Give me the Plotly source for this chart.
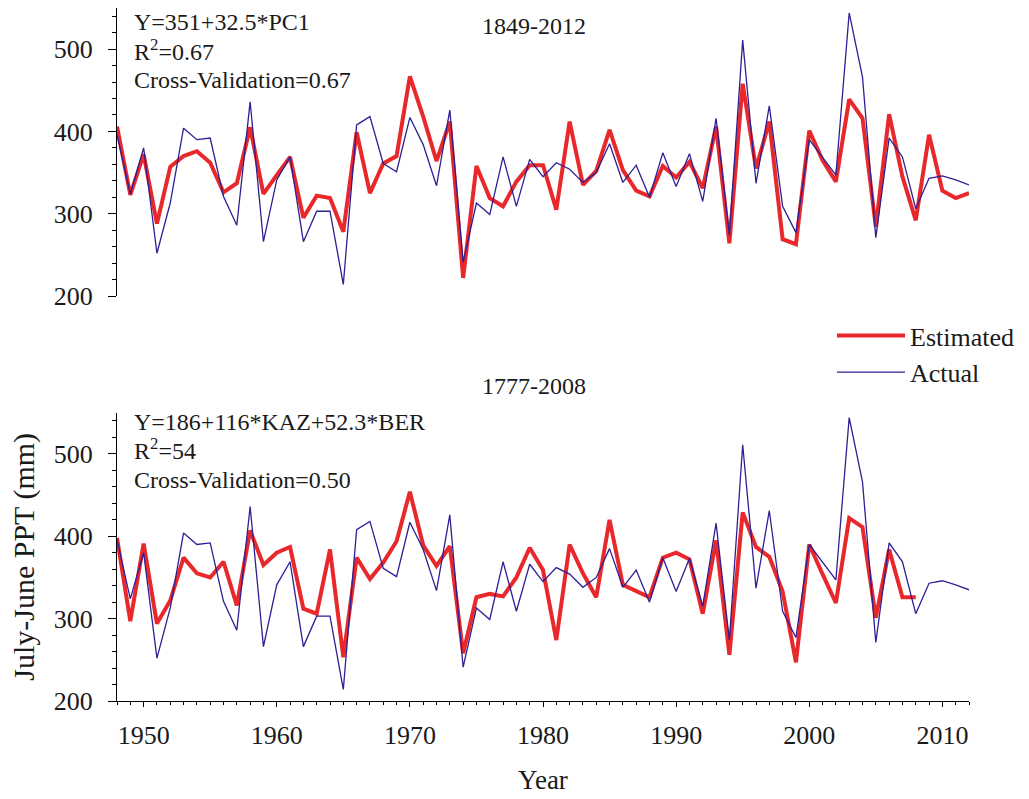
import plotly.graph_objects as go

years = list(range(1948, 2013))
years_bottom = list(range(1948, 2009))

actual = [396, 324, 380, 252, 313, 404, 390, 392, 321, 286,
          436, 266, 341, 369, 266, 303, 303, 214, 408, 418,
          361, 351, 417, 384, 334, 426, 241, 313, 299, 369,
          309, 366, 345, 362, 354, 338, 350, 385, 338, 359,
          320, 374, 333, 373, 315, 416, 274, 511, 337, 431,
          309, 277, 390, 369, 347, 544, 466, 271, 392, 369,
          306, 343, 346, 341, 335]

est_top = [406, 323, 372, 288, 357, 370, 376, 362, 326, 337,
           405, 324, 347, 369, 295, 322, 319, 278, 399, 325,
           361, 370, 467, 418, 364, 412, 222, 358, 319, 309,
           339, 359, 359, 305, 412, 335, 352, 402, 353, 328,
           321, 358, 344, 363, 331, 406, 264, 458, 355, 412,
           269, 263, 401, 365, 339, 439, 416, 284, 421, 345,
           292, 396, 328, 319, 325]

est_bottom = [398, 297, 391, 294, 322, 374, 355, 350, 369, 316,
              407, 365, 380, 387, 312, 306, 384, 253, 374, 348,
              368, 394, 454, 389, 364, 388, 258, 326, 330, 327,
              350, 386, 359, 274, 390, 355, 326, 420, 341, 334,
              326, 374, 380, 372, 306, 395, 256, 429, 387, 375,
              333, 247, 390, 354, 319, 422, 411, 301, 384, 326,
              326]

y_ticks = [200, 300, 400, 500]
x_range = [1948, 2012]
y_range = [200, 550]

RED = "#e8282b"
BLUE = "#2e1f94"
FONT = "Liberation Serif"
TXT = "#1a1a1a"

W, H = 1029, 799
ML, MR, MT, MB = 117, 60, 8, 98
PW = W - ML - MR
PH = H - MT - MB


def px_x(x):
    return (x - ML) / PW


def px_y(y):
    return 1 - (y - MT) / PH


fig = go.Figure()

fig.add_trace(go.Scatter(x=years, y=est_top, mode="lines", name="Estimated",
                         line=dict(color=RED, width=4), xaxis="x", yaxis="y",
                         legendgroup="e"))
fig.add_trace(go.Scatter(x=years, y=actual, mode="lines", name="Actual",
                         line=dict(color=BLUE, width=1.3), xaxis="x", yaxis="y",
                         legendgroup="a"))
fig.add_trace(go.Scatter(x=years_bottom, y=est_bottom, mode="lines", name="Estimated",
                         line=dict(color=RED, width=4), xaxis="x2", yaxis="y2",
                         legendgroup="e", showlegend=False))
fig.add_trace(go.Scatter(x=years, y=actual, mode="lines", name="Actual",
                         line=dict(color=BLUE, width=1.3), xaxis="x2", yaxis="y2",
                         legendgroup="a", showlegend=False))

yaxis_common = dict(
    range=y_range, showline=True, linecolor="black", linewidth=1,
    ticks="outside", ticklen=8, tickwidth=1, tickcolor="black",
    tickvals=y_ticks, tickfont=dict(family=FONT, size=26, color=TXT),
    minor=dict(dtick=20, tick0=200, ticks="outside", ticklen=4,
               tickcolor="black", tickwidth=1, showgrid=False),
    showgrid=False, zeroline=False, ticklabelstandoff=10,
)

top_dom = [px_y(296), 1]
bot_dom = [0, px_y(412.7)]

fig.update_layout(
    width=W, height=H,
    margin=dict(l=ML, r=MR, t=MT, b=MB),
    paper_bgcolor="white", plot_bgcolor="white",
    font=dict(family=FONT, color=TXT),
    xaxis=dict(range=x_range, domain=[0, 1], anchor="y", visible=False),
    yaxis=dict(domain=top_dom, anchor="x", **yaxis_common),
    xaxis2=dict(
        range=x_range, domain=[0, 1], anchor="y2",
        showline=True, linecolor="black", linewidth=1,
        ticks="outside", ticklen=5, tickwidth=1, tickcolor="black",
        tick0=1950, dtick=10,
        minor=dict(dtick=1, tick0=1948, ticks="outside", ticklen=3,
                   tickcolor="black", tickwidth=1, showgrid=False),
        tickfont=dict(family=FONT, size=26, color=TXT),
        showgrid=False, zeroline=False, ticklabelstandoff=6,
        title=dict(text="Year", font=dict(family=FONT, size=27, color=TXT),
                   standoff=20),
    ),
    yaxis2=dict(domain=bot_dom, anchor="x2",
                title=dict(text="July-June PPT (mm)",
                           font=dict(family=FONT, size=30, color=TXT),
                           standoff=10),
                **yaxis_common),
    showlegend=True,
    legend=dict(
        x=px_x(832), y=px_y(354), xanchor="left", yanchor="middle",
        font=dict(family=FONT, size=26, color=TXT),
        bgcolor="rgba(0,0,0,0)", itemwidth=68, tracegroupgap=0,
    ),
)

ann_font = dict(family=FONT, size=24, color=TXT)
annotations = [
    ("Y=351+32.5*PC1", 131.7, 22, "left"),
    ("R<sup>2</sup>=0.67", 131.7, 50, "left"),
    ("Cross-Validation=0.67", 131.7, 80, "left"),
    ("1849-2012", 534, 25.5, "center"),
    ("1777-2008", 534, 385.5, "center"),
    ("Y=186+116*KAZ+52.3*BER", 131.7, 422, "left"),
    ("R<sup>2</sup>=54", 131.7, 449.5, "left"),
    ("Cross-Validation=0.50", 131.7, 480, "left"),
]
for text, xp, yp, anchor in annotations:
    fig.add_annotation(text=text, x=px_x(xp), y=px_y(yp), xref="paper", yref="paper",
                       xanchor=anchor, yanchor="middle", showarrow=False,
                       font=ann_font)

fig.write_html("out.html")
